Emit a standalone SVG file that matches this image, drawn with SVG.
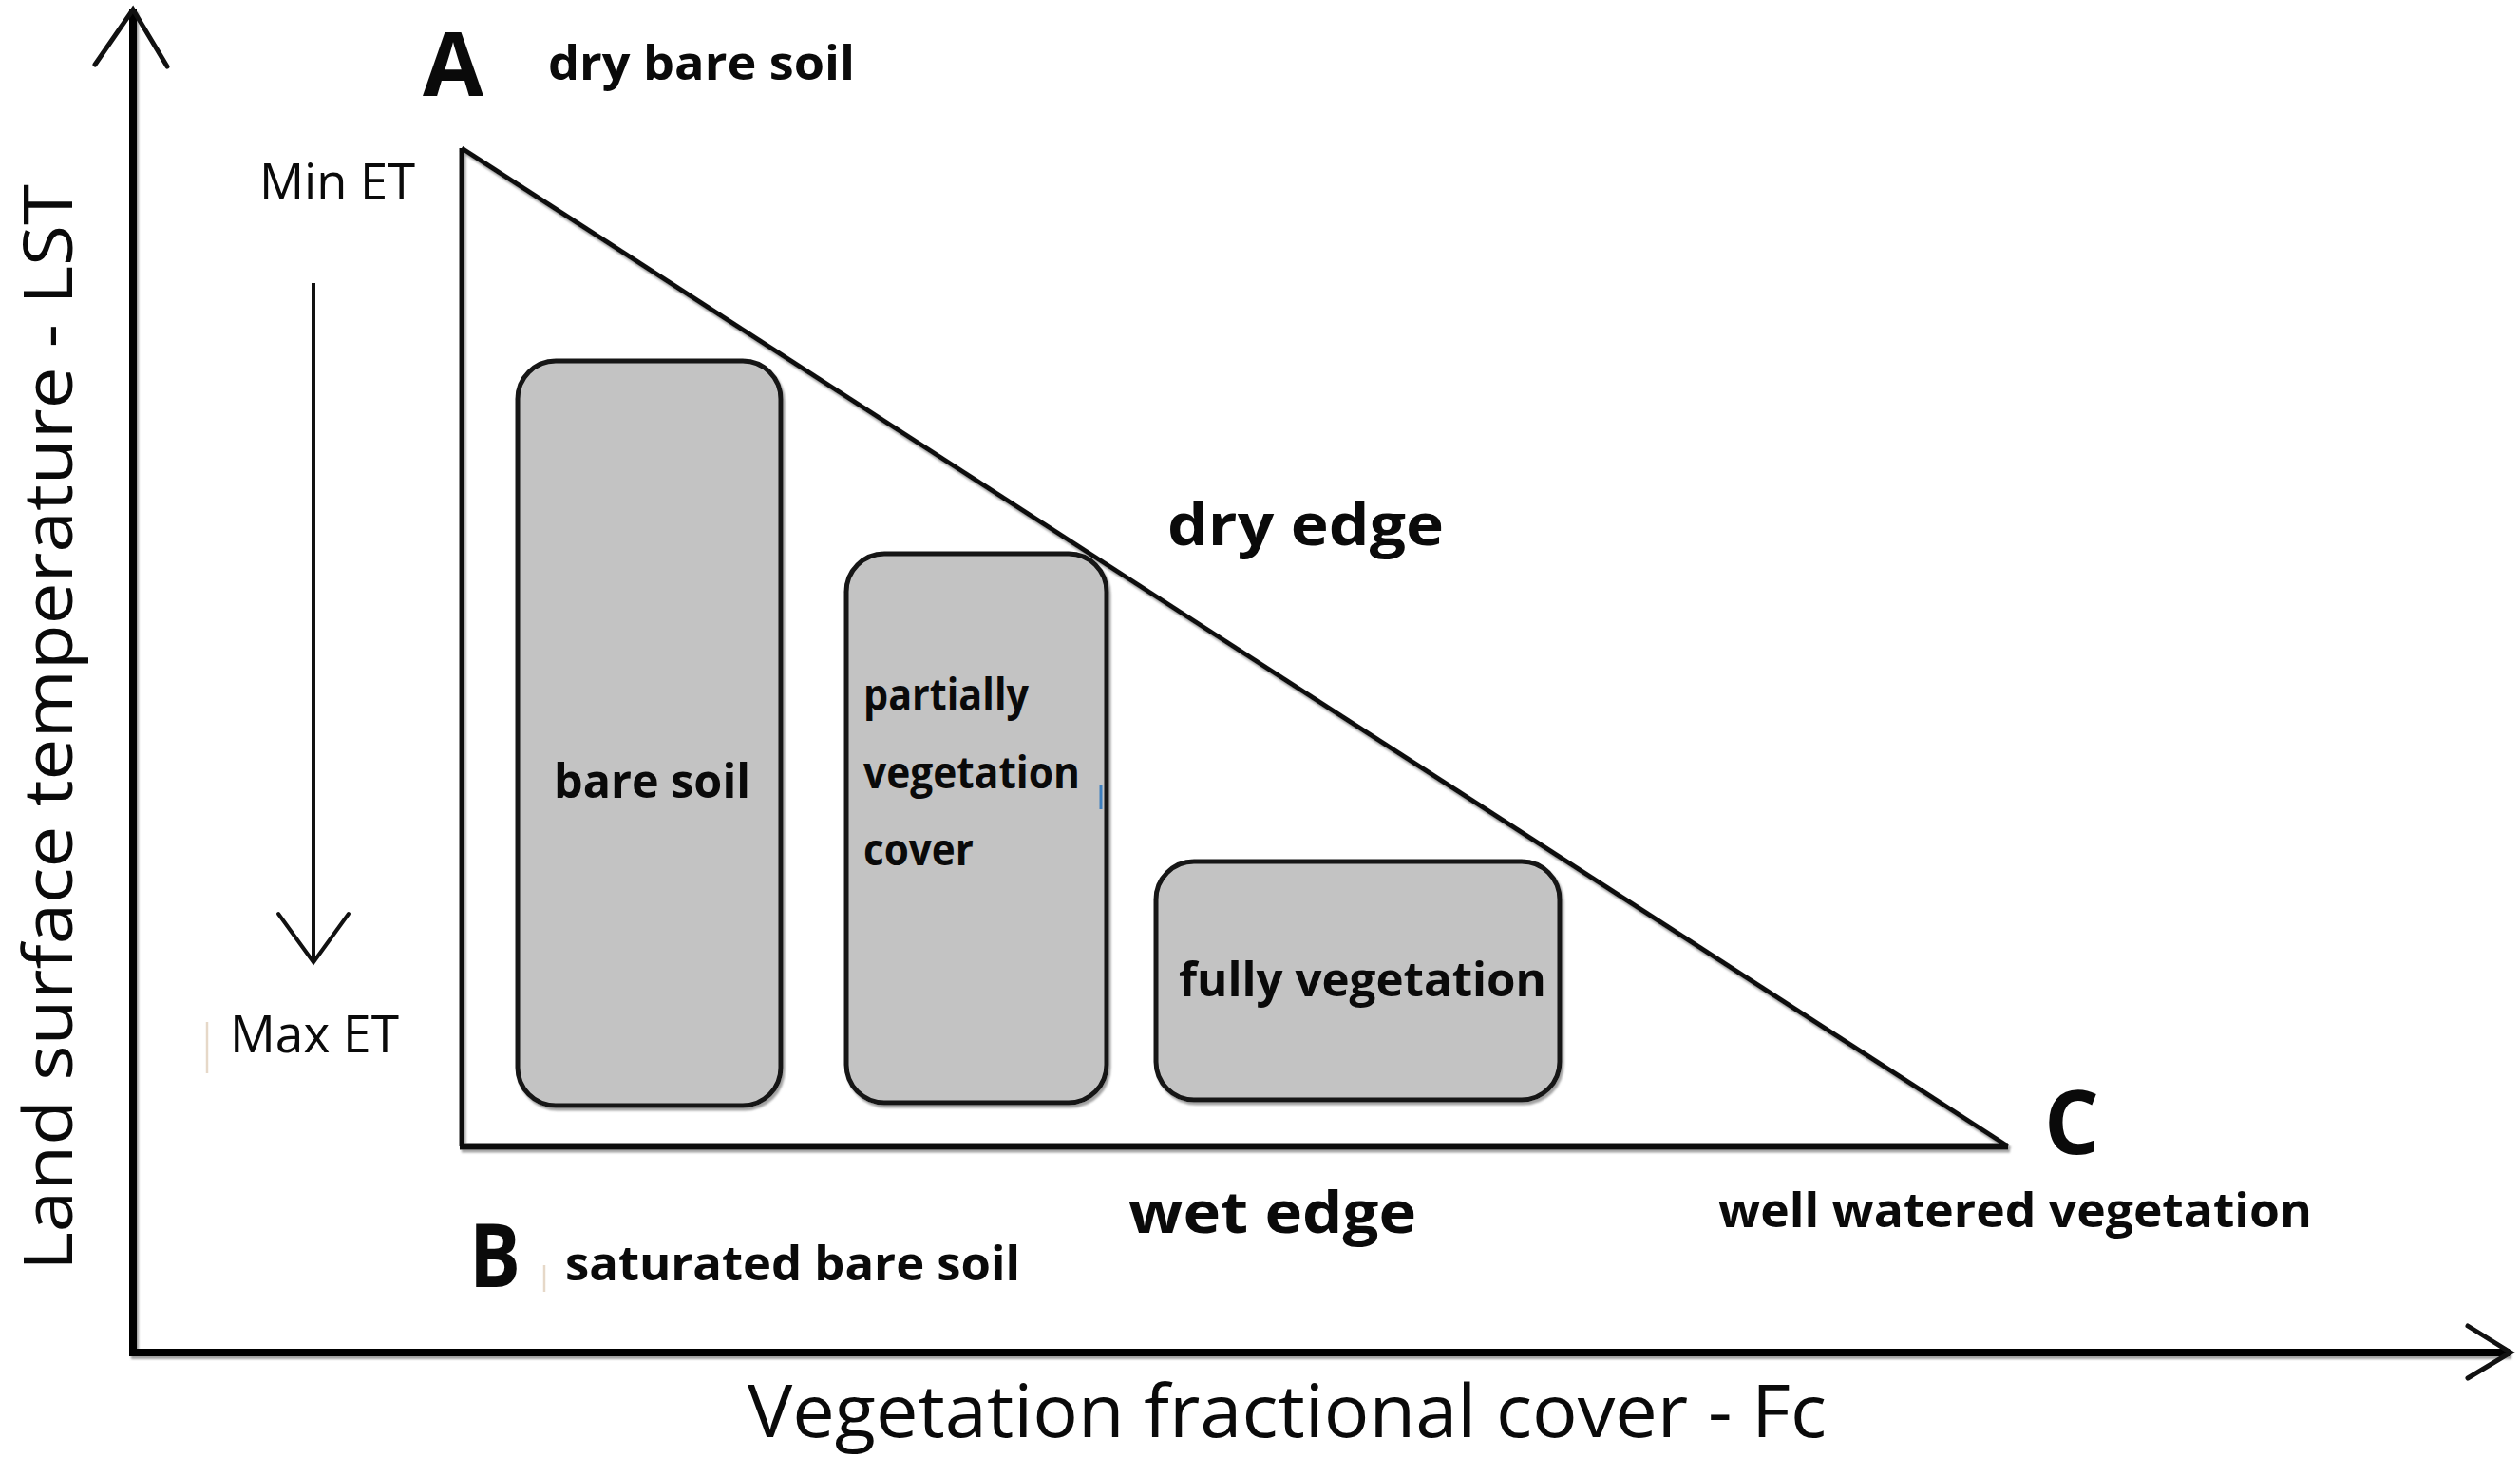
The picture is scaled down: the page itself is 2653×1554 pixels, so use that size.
<svg xmlns="http://www.w3.org/2000/svg" width="2653" height="1554" viewBox="0 0 2653 1554">
  <style>
    .bold { font-family: "Open Sans", "Liberation Sans", sans-serif; font-weight: bold; fill: #0a0a0a; }
    .reg { font-family: "Open Sans", "Liberation Sans", sans-serif; font-weight: normal; fill: #0a0a0a; }
    .axis { stroke: #050505; stroke-width: 8; fill: none; stroke-linecap: square; }
    .edge { stroke: #111; stroke-width: 5; fill: none; }
    .head { stroke: #111; stroke-width: 5; fill: none; stroke-linecap: round; stroke-linejoin: miter; }
    .box { fill: #c3c3c3; stroke: #151515; stroke-width: 5; }
    .faint { stroke: #e6d8c8; stroke-width: 2.5; }
  </style>
  <defs>
    <filter id="shadow" x="-5%" y="-5%" width="110%" height="110%">
      <feDropShadow dx="2" dy="3" stdDeviation="1.2" flood-color="#8a8a8a" flood-opacity="0.8"/>
    </filter>
  </defs>
  <rect x="0" y="0" width="2653" height="1554" fill="#ffffff"/>

  <g id="connectors">
    <g filter="url(#shadow)">
      <line class="axis" x1="140" y1="14" x2="140" y2="1424"/>
      <line class="axis" x1="140" y1="1424" x2="2638" y2="1424"/>
    </g>
    <polyline class="head" points="100,68 140,10 176,70"/>
    <polyline class="head" points="2598,1396 2643,1424 2598,1451"/>
    <g filter="url(#shadow)">
      <line class="edge" x1="486" y1="156" x2="486" y2="1207"/>
      <line class="edge" x1="486" y1="156" x2="2114" y2="1207"/>
      <line class="edge" x1="484" y1="1207" x2="2114" y2="1207" style="stroke-width:7"/>
    </g>
    <line class="edge" x1="330" y1="298" x2="330" y2="1012" style="stroke-width:4"/>
    <polyline class="head" points="293,962 330,1013 367,962" style="stroke-width:4"/>
    <line class="faint" x1="218" y1="1076" x2="218" y2="1130"/>
    <line class="faint" x1="573" y1="1332" x2="573" y2="1360"/>
  </g>

  <g id="node-bare-soil">
    <rect class="box" x="545" y="380" width="277" height="784" rx="40" ry="40" filter="url(#shadow)"/>
    <text class="bold" x="583" y="840" font-size="50" textLength="207" lengthAdjust="spacingAndGlyphs">bare soil</text>
  </g>

  <g id="node-partially">
    <rect class="box" x="891" y="583" width="274" height="578" rx="40" ry="40" filter="url(#shadow)"/>
    <text class="bold" x="909" y="748" font-size="46" textLength="174" lengthAdjust="spacingAndGlyphs">partially</text>
    <text class="bold" x="909" y="830" font-size="46" textLength="228" lengthAdjust="spacingAndGlyphs">vegetation</text>
    <text class="bold" x="909" y="911" font-size="46" textLength="116" lengthAdjust="spacingAndGlyphs">cover</text>
    <line x1="1159" y1="826" x2="1159" y2="852" stroke="#3d7fbf" stroke-width="3"/>
  </g>

  <g id="node-fully">
    <rect class="box" x="1217" y="907" width="425" height="251" rx="40" ry="40" filter="url(#shadow)"/>
    <text class="bold" x="1241" y="1049" font-size="50" textLength="387" lengthAdjust="spacingAndGlyphs">fully vegetation</text>
  </g>

  <g id="labels">
    <text class="bold" x="445" y="101" font-size="94" textLength="64" lengthAdjust="spacingAndGlyphs">A</text>
    <text class="bold" x="577" y="84" font-size="50" textLength="323" lengthAdjust="spacingAndGlyphs">dry bare soil</text>
    <text class="bold" x="494" y="1355" font-size="94" textLength="54" lengthAdjust="spacingAndGlyphs">B</text>
    <text class="bold" x="595" y="1348" font-size="50" textLength="479" lengthAdjust="spacingAndGlyphs">saturated bare soil</text>
    <text class="bold" x="2152" y="1215" font-size="94" textLength="58" lengthAdjust="spacingAndGlyphs">C</text>
    <text class="bold" x="1809" y="1292" font-size="50" textLength="625" lengthAdjust="spacingAndGlyphs">well watered vegetation</text>
    <text class="bold" x="1229" y="574" font-size="61" textLength="291" lengthAdjust="spacingAndGlyphs">dry edge</text>
    <text class="bold" x="1188" y="1298" font-size="61" textLength="303" lengthAdjust="spacingAndGlyphs">wet edge</text>
    <text class="reg" x="273" y="210" font-size="53" textLength="164" lengthAdjust="spacingAndGlyphs">Min ET</text>
    <text class="reg" x="242" y="1108" font-size="54" textLength="178" lengthAdjust="spacingAndGlyphs">Max ET</text>
    <text class="reg" x="787" y="1513" font-size="77" textLength="1136" lengthAdjust="spacingAndGlyphs">Vegetation fractional cover - Fc</text>
    <text class="reg" transform="translate(76,1338) rotate(-90)" x="0" y="0" font-size="72" textLength="1144" lengthAdjust="spacingAndGlyphs">Land surface temperature - LST</text>
  </g>
</svg>
